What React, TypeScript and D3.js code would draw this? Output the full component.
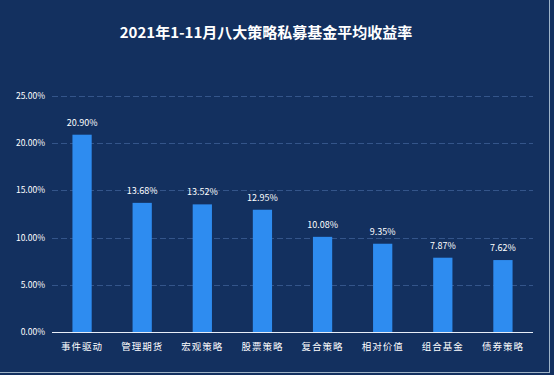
import React, { useEffect, useRef } from 'react';
import * as d3 from 'd3';

const categories = ['事件驱动', '管理期货', '宏观策略', '股票策略', '复合策略', '相对价值', '组合基金', '债券策略'];
const returns = [20.9, 13.68, 13.52, 12.95, 10.08, 9.35, 7.87, 7.62];
const valueLabels = ['20.90%', '13.68%', '13.52%', '12.95%', '10.08%', '9.35%', '7.87%', '7.62%'];
const yTicks = [0, 5, 10, 15, 20, 25];

const App = () => {
  const svgRef = useRef<SVGSVGElement>(null);

  useEffect(() => {
    const svg = d3.select(svgRef.current);
    svg.selectAll('*').remove();

    const width = 554;
    const height = 375;
    const margin = { top: 96, right: 21, bottom: 43, left: 52 };
    const font = '"Noto Sans CJK SC", "DejaVu Sans", sans-serif';

    // background + light edges
    svg.append('rect').attr('width', width).attr('height', height).attr('fill', '#13305f');
    svg.append('line').attr('x1', 549.5).attr('x2', 549.5).attr('y1', 0).attr('y2', 372)
      .attr('stroke', '#9fb4c8').attr('stroke-width', 1);
    svg.append('line').attr('x1', 0).attr('x2', 550).attr('y1', 372.5).attr('y2', 372.5)
      .attr('stroke', '#9fb4c8').attr('stroke-width', 1);

    svg.append('text')
      .attr('x', 266).attr('y', 38)
      .attr('text-anchor', 'middle')
      .attr('fill', '#ffffff')
      .attr('font-family', font)
      .attr('font-weight', 'bold')
      .attr('font-size', 15)
      .text('2021年1-11月八大策略私募基金平均收益率');

    const xScale = d3.scaleBand()
      .domain(categories)
      .range([margin.left, width - margin.right])
      .paddingInner(0.68)
      .paddingOuter(0.34);

    const yScale = d3.scaleLinear()
      .domain([0, 25])
      .range([height - margin.bottom, margin.top]);

    // gridlines
    svg.append('g')
      .selectAll('line')
      .data(yTicks.filter(d => d > 0))
      .enter().append('line')
      .attr('x1', margin.left)
      .attr('x2', width - margin.right)
      .attr('y1', d => Math.round(yScale(d)) + 0.5)
      .attr('y2', d => Math.round(yScale(d)) + 0.5)
      .attr('stroke', '#34558a')
      .attr('stroke-dasharray', '6,3');

    // y labels
    svg.append('g')
      .selectAll('text')
      .data(yTicks)
      .enter().append('text')
      .attr('x', 45)
      .attr('y', d => yScale(d))
      .attr('dy', '0.35em')
      .attr('text-anchor', 'end')
      .attr('fill', '#ffffff')
      .attr('font-family', font)
      .attr('font-size', 8.5)
      .text(d => d.toFixed(2) + '%');

    // bars
    svg.append('g')
      .selectAll('rect')
      .data(returns)
      .enter().append('rect')
      .attr('x', (d, i) => xScale(categories[i]))
      .attr('y', d => yScale(d))
      .attr('width', xScale.bandwidth())
      .attr('height', d => yScale(0) - yScale(d))
      .attr('fill', '#2e8cf0');

    // baseline
    svg.append('line')
      .attr('x1', margin.left).attr('x2', width - margin.right)
      .attr('y1', yScale(0) + 0.5).attr('y2', yScale(0) + 0.5)
      .attr('stroke', '#e8eef8');

    // value labels
    svg.append('g')
      .selectAll('text')
      .data(returns)
      .enter().append('text')
      .attr('x', (d, i) => (xScale(categories[i]) || 0) + xScale.bandwidth() / 2)
      .attr('y', d => yScale(d) - 9)
      .attr('text-anchor', 'middle')
      .attr('fill', '#ffffff')
      .attr('font-family', font)
      .attr('font-size', 9)
      .text((d, i) => valueLabels[i]);

    // category labels
    svg.append('g')
      .selectAll('text')
      .data(categories)
      .enter().append('text')
      .attr('x', d => (xScale(d) || 0) + xScale.bandwidth() / 2)
      .attr('y', 350)
      .attr('text-anchor', 'middle')
      .attr('fill', '#ffffff')
      .attr('font-family', font)
      .attr('font-size', 9.5)
      .attr('letter-spacing', 1)
      .text(d => d);
  }, []);

  return (
    <div style={{ position: 'fixed', top: 0, left: 0 }}>
      <svg ref={svgRef} width={554} height={375} style={{ display: 'block' }}></svg>
    </div>
  );
};

export default App;
